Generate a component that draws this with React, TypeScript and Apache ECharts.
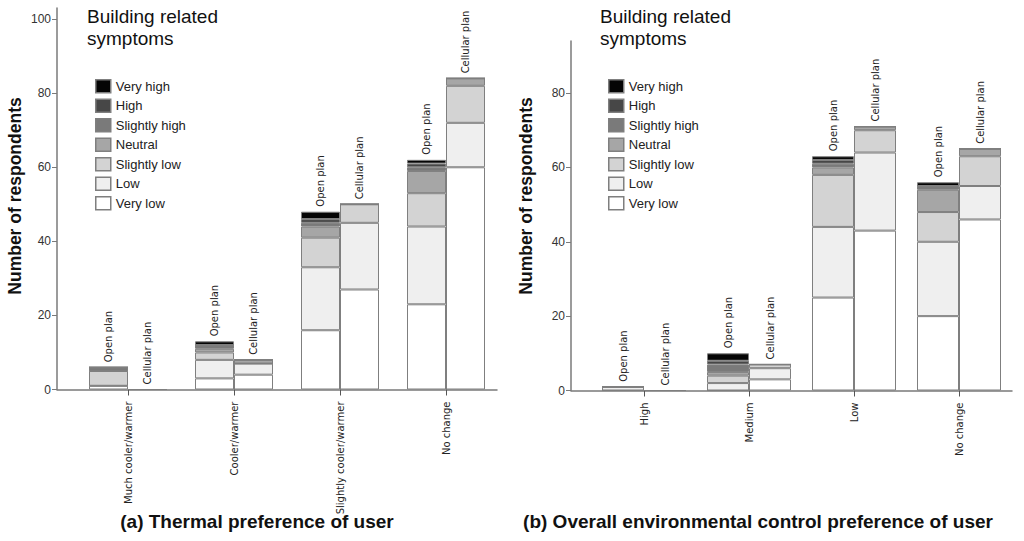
import { useEffect, useRef } from 'react'
import * as echarts from 'echarts'

const thermalCategories = ['Much cooler/warmer', 'Cooler/warmer', 'Slightly cooler/warmer', 'No change']
const controlCategories = ['High', 'Medium', 'Low', 'No change']
const plans = ['Open plan', 'Cellular plan']
const levels = ['Very low', 'Low', 'Slightly low', 'Neutral', 'Slightly high', 'High', 'Very high']
const levelColors = ['#ffffff', '#efefef', '#d3d3d3', '#a6a6a6', '#7a7a7a', '#474747', '#050505']

// rows follow levels (Very low .. Very high), columns follow the categories
const thermalOpen = [
  [1, 3, 16, 23],
  [0, 5, 17, 21],
  [4, 2, 8, 9],
  [0, 1, 3, 6],
  [1, 1, 1, 1],
  [0, 0, 1, 1],
  [0, 1, 2, 1]
]
const thermalCellular = [
  [0, 4, 27, 60],
  [0, 3, 18, 12],
  [0, 0, 5, 10],
  [0, 1, 0, 2],
  [0, 0, 0, 0],
  [0, 0, 0, 0],
  [0, 0, 0, 0]
]
const controlOpen = [
  [0, 0, 25, 20],
  [1, 2, 19, 20],
  [0, 2, 14, 8],
  [0, 1, 2, 6],
  [0, 2, 1, 1],
  [0, 1, 1, 0],
  [0, 2, 1, 1]
]
const controlCellular = [
  [0, 3, 43, 46],
  [0, 3, 21, 9],
  [0, 1, 6, 8],
  [0, 0, 1, 2],
  [0, 0, 0, 0],
  [0, 0, 0, 0],
  [0, 0, 0, 0]
]

const thermalTicks = [0, 20, 40, 60, 80, 100]
const controlTicks = [0, 20, 40, 60, 80]

const axisColor = '#7a7a7a'
const barBorder = '#7f7f7f'
const smallFont = 'DejaVu Sans'

export default function App() {
  const chartRef = useRef<HTMLDivElement>(null)

  useEffect(() => {
    if (!chartRef.current) return
    document.body.style.margin = '0'
    const chart = echarts.init(chartRef.current, null, { renderer: 'svg' })

    const stackSeries = (panel: number, plan: string, data: number[][], barWidth: number) => {
      const axisIndex = panel * 2 + 1
      const stack = `p${panel}-${plan}`
      const list: any[] = levels.map((level, i) => ({
        type: 'bar',
        name: level,
        stack,
        stackStrategy: 'all',
        xAxisIndex: axisIndex,
        yAxisIndex: axisIndex,
        barWidth,
        barGap: '0%',
        silent: true,
        data: data[i],
        itemStyle: { color: levelColors[i], borderColor: barBorder, borderWidth: 1 }
      }))
      // empty bar on top of the stack, only carries the plan label
      list.push({
        type: 'bar',
        name: plan + ' label',
        stack,
        stackStrategy: 'all',
        xAxisIndex: axisIndex,
        yAxisIndex: axisIndex,
        barWidth,
        barGap: '0%',
        silent: true,
        data: data[0].map(() => 0),
        itemStyle: { color: 'transparent', borderWidth: 0 },
        label: {
          show: true,
          position: 'top',
          distance: 5,
          rotate: 90,
          align: 'left',
          verticalAlign: 'middle',
          formatter: plan,
          fontSize: 10,
          fontFamily: smallFont,
          color: '#222'
        }
      })
      return list
    }

    const frameX = (gridIndex: number) => ({
      type: 'value',
      gridIndex,
      min: 0,
      max: 1,
      axisLine: { show: true, lineStyle: { color: axisColor, width: 1.5 } },
      axisTick: { show: false },
      axisLabel: { show: false },
      splitLine: { show: false }
    })

    const frameY = (gridIndex: number, max: number, ticks: number[]) => ({
      type: 'value',
      gridIndex,
      min: 0,
      max,
      axisLine: { show: true, lineStyle: { color: axisColor, width: 1.5 } },
      axisTick: { show: true, length: 5, customValues: ticks, lineStyle: { color: axisColor } },
      axisLabel: { customValues: ticks, fontSize: 12, color: '#333', margin: 6, fontFamily: 'Liberation Sans' },
      splitLine: { show: false }
    })

    const barX = (gridIndex: number, data: string[]) => ({
      type: 'category',
      gridIndex,
      data,
      axisLine: { show: false },
      axisTick: { show: true, alignWithLabel: true, length: 6, lineStyle: { color: '#555' } },
      axisLabel: { rotate: 90, fontSize: 10, fontFamily: smallFont, color: '#222', margin: 12, interval: 0 }
    })

    const barY = (gridIndex: number, max: number) => ({
      type: 'value',
      gridIndex,
      min: 0,
      max,
      show: false
    })

    const legend = (left: number) => ({
      left,
      top: 74,
      orient: 'vertical',
      itemWidth: 15,
      itemHeight: 13,
      itemGap: 5,
      selectedMode: false,
      icon: 'rect',
      data: [...levels].reverse(),
      itemStyle: { borderColor: barBorder, borderWidth: 1.5 },
      textStyle: { fontSize: 13, color: '#222', fontFamily: 'Liberation Sans' }
    })

    const headerText = (x: number) => ({
      type: 'text',
      x,
      y: 5,
      style: {
        text: 'Building related\nsymptoms',
        fontSize: 19,
        lineHeight: 22,
        fontFamily: 'Liberation Sans',
        fill: '#111',
        verticalAlign: 'top'
      }
    })

    const axisName = (x: number) => ({
      type: 'text',
      x,
      y: 196,
      rotation: Math.PI / 2,
      style: {
        text: 'Number of respondents',
        fontSize: 17.5,
        fontWeight: 'bold',
        fontFamily: 'Liberation Sans',
        fill: '#111',
        align: 'center',
        verticalAlign: 'middle'
      }
    })

    const caption = (x: number, text: string) => ({
      type: 'text',
      x,
      y: 521,
      style: {
        text,
        fontSize: 19,
        fontWeight: 'bold',
        fontFamily: 'Liberation Sans',
        fill: '#111',
        align: 'center',
        verticalAlign: 'middle'
      }
    })

    const option = {
      animation: false,
      textStyle: { fontFamily: 'Liberation Sans' },
      grid: [
        { left: 57, top: 8, width: 440, bottom: 151.5 },
        { left: 75, top: 8, width: 424, bottom: 151.5 },
        { left: 571, top: 41, width: 441, bottom: 150.5 },
        { left: 591.5, top: 41, width: 420, bottom: 150.5 }
      ],
      xAxis: [frameX(0), barX(1, thermalCategories), frameX(2), barX(3, controlCategories)],
      yAxis: [
        frameY(0, 103, thermalTicks),
        barY(1, 103),
        frameY(2, 94, controlTicks),
        barY(3, 94)
      ],
      legend: [legend(90), legend(603)],
      graphic: [
        headerText(87),
        headerText(600),
        axisName(15),
        axisName(526),
        caption(257, '(a) Thermal preference of user'),
        caption(758, '(b) Overall environmental control preference of user')
      ],
      series: [
        ...stackSeries(0, plans[0], thermalOpen, 39),
        ...stackSeries(0, plans[1], thermalCellular, 39),
        ...stackSeries(1, plans[0], controlOpen, 42),
        ...stackSeries(1, plans[1], controlCellular, 42)
      ]
    }

    chart.setOption(option as any)

    return () => {
      chart.dispose()
    }
  }, [])

  return <div ref={chartRef} style={{ width: 1024, height: 541 }} />
}
